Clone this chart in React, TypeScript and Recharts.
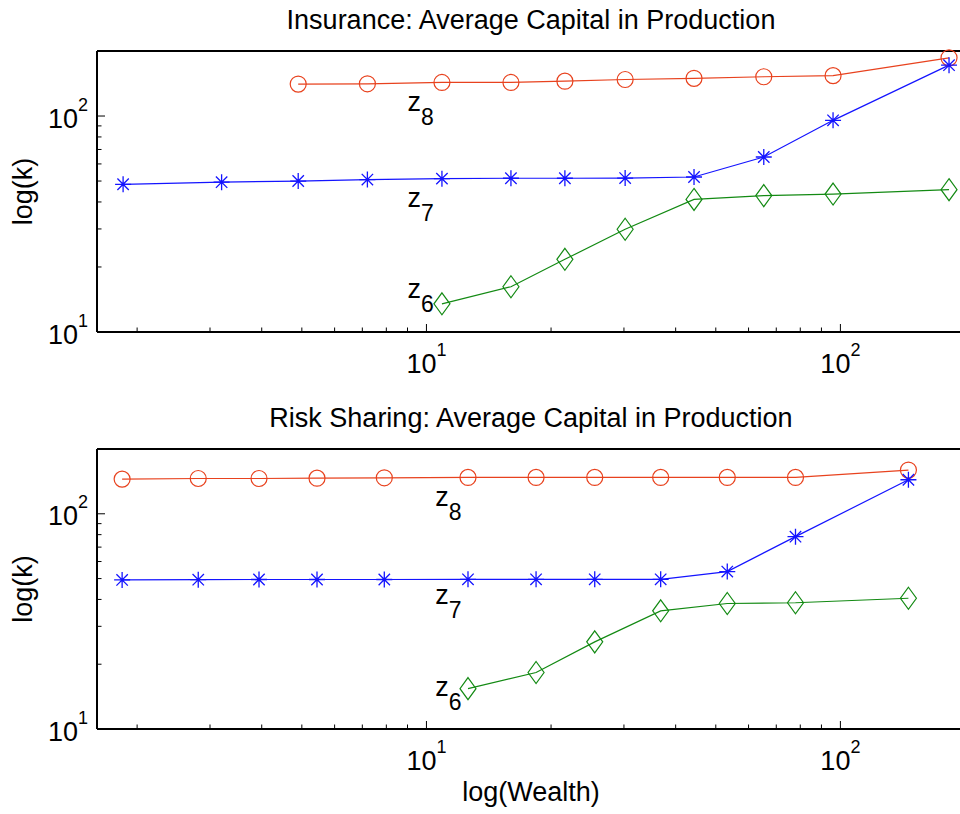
import React from 'react';
import { LineChart, Line, XAxis, YAxis, ReferenceDot, Label } from 'recharts';

// top panel: insurance
const WEALTH_INS = [1.85, 3.2, 4.9, 7.2, 10.9, 16.0, 21.6, 30.2, 44.3, 65.3, 96.0, 183];
const Z8_INS = [null, null, 140.6, 141, 143, 143, 145, 147.6, 149.5, 152, 153.8, 186];
const Z7_INS = [48.3, 49.4, 50.0, 50.8, 51.3, 51.5, 51.5, 51.6, 52.2, 64.6, 95.5, 172];
const Z6_INS = [null, null, null, null, 13.5, 16.2, 21.7, 29.9, 41.1, 42.8, 43.5, 45.6];

// bottom panel: risk sharing
const WEALTH_RISK = [1.84, 2.81, 3.94, 5.44, 7.91, 12.6, 18.4, 25.5, 36.8, 53.3, 77.9, 146];
const Z8_RISK = [144.9, 145.9, 145.9, 146.4, 147, 147.6, 147.6, 147.6, 147.6, 147.6, 147.6, 159.6];
const Z7_RISK = [49.3, 49.4, 49.5, 49.5, 49.5, 49.6, 49.6, 49.6, 49.6, 53.9, 78.3, 143.9];
const Z6_RISK = [null, null, null, null, null, 15.4, 18.3, 25.4, 35.4, 38.3, 38.6, 40.5];

// text annotations (data coords)
const LABELS_INS = [
  { sub: '8', w: 9.0, k: 106 },
  { sub: '7', w: 9.0, k: 37.9 },
  { sub: '6', w: 9.0, k: 14.3 },
];
const LABELS_RISK = [
  { sub: '8', w: 10.5, k: 109 },
  { sub: '7', w: 10.5, k: 38.0 },
  { sub: '6', w: 10.5, k: 14.2 },
];

const X_TICKS = [2, 3, 4, 5, 6, 7, 8, 9, 10, 20, 30, 40, 50, 60, 70, 80, 90, 100];
const Y_TICKS = [10, 20, 30, 40, 50, 60, 70, 80, 90, 100];
const MAJOR = [10, 100];

const RED = '#e8421e';
const BLUE = '#1414ff';
const GREEN = '#138a13';
const FONT = '"Liberation Sans", Arial, Helvetica, sans-serif';
const FS = 27;
const AXIS = { stroke: '#000', strokeWidth: 2 };

const series = (wealth: number[], vals: (number | null)[]) =>
  wealth.map((w, i) => ({ w, k: vals[i] })).filter(d => d.k != null);

const isMajor = (v: number) => MAJOR.includes(v);
const tickLen = (v: number) => (isMajor(v) ? 8 : 4.5);

const Pow = ({ v }: { v: number }) => (
  <>
    10<tspan dy={-17} fontSize={18}>{Math.round(Math.log10(v))}</tspan>
  </>
);

const BottomTick = ({ x, y, payload }: any) => (
  <g>
    <line x1={x} y1={y} x2={x} y2={y - tickLen(payload.value)} stroke="#000" />
    {isMajor(payload.value) && (
      <text x={x} y={y + 41} textAnchor="middle" fontSize={FS} fontFamily={FONT} fill="#000">
        <Pow v={payload.value} />
      </text>
    )}
  </g>
);

const TopTick = ({ x, y, payload }: any) => (
  <line x1={x} y1={y} x2={x} y2={y + tickLen(payload.value)} stroke="#000" />
);

const LeftTick = ({ x, y, payload }: any) => (
  <g>
    <line x1={x} y1={y} x2={x + tickLen(payload.value)} y2={y} stroke="#000" />
    {isMajor(payload.value) && (
      <text x={x - 9} y={y + 11.5} textAnchor="end" fontSize={FS} fontFamily={FONT} fill="#000">
        <Pow v={payload.value} />
      </text>
    )}
  </g>
);

const RightTick = ({ x, y, payload }: any) => (
  <line x1={x} y1={y} x2={x - tickLen(payload.value)} y2={y} stroke="#000" />
);

const CircleDot = ({ cx, cy, index }: any) =>
  cx == null || cy == null ? null : (
    <circle key={`c${index}`} cx={cx} cy={cy} r={8} fill="none" stroke={RED} strokeWidth={1.2} />
  );

const StarDot = ({ cx, cy, index }: any) => {
  if (cx == null || cy == null) return null;
  const a = 8, b = 5.7;
  return (
    <path key={`s${index}`} fill="none" stroke={BLUE} strokeWidth={1.3}
      d={`M${cx - a},${cy}H${cx + a}M${cx},${cy - a}V${cy + a}M${cx - b},${cy - b}L${cx + b},${cy + b}M${cx - b},${cy + b}L${cx + b},${cy - b}`} />
  );
};

const DiamondDot = ({ cx, cy, index }: any) =>
  cx == null || cy == null ? null : (
    <path key={`d${index}`} fill="none" stroke={GREEN} strokeWidth={1.2}
      d={`M${cx},${cy - 11}L${cx + 8},${cy}L${cx},${cy + 11}L${cx - 8},${cy}Z`} />
  );

// axes are 1px thick boxes so the plot area sits exactly on the margins
function Panel({ title, wealth, z8, z7, z6, labels, xLabel, height, mTop, mBottom }: any) {
  return (
    <LineChart width={1000} height={height} margin={{ top: mTop - 1, right: 34, bottom: mBottom - 1, left: 96 }}>
      <XAxis xAxisId="b" type="number" dataKey="w" scale="log" domain={[1.6, 200]} ticks={X_TICKS}
        interval={0} height={1} tickSize={0} tickMargin={0} tickLine={false} axisLine={AXIS} tick={<BottomTick />}>
        {xLabel && (
          <Label content={(p: any) => (
            <text x={p.viewBox.x + p.viewBox.width / 2} y={p.viewBox.y + 72} textAnchor="middle"
              fontSize={FS} fontFamily={FONT} fill="#000">{xLabel}</text>
          )} />
        )}
      </XAxis>
      <XAxis xAxisId="t" orientation="top" type="number" scale="log" domain={[1.6, 200]} ticks={X_TICKS}
        interval={0} height={1} tickSize={0} tickMargin={0} tickLine={false} axisLine={AXIS} tick={<TopTick />}>
        <Label content={(p: any) => (
          <text x={p.viewBox.x + p.viewBox.width / 2} y={p.viewBox.y + p.viewBox.height - 22} textAnchor="middle"
            fontSize={FS} fontFamily={FONT} fill="#000">{title}</text>
        )} />
      </XAxis>
      <YAxis yAxisId="l" type="number" scale="log" domain={[10, 200]} ticks={Y_TICKS}
        interval={0} width={1} tickSize={0} tickMargin={0} tickLine={false} axisLine={AXIS} tick={<LeftTick />}>
        <Label content={(p: any) => {
          const x = p.viewBox.x + p.viewBox.width - 65;
          const y = p.viewBox.y + p.viewBox.height / 2;
          return (
            <text x={x} y={y} transform={`rotate(-90 ${x} ${y})`} textAnchor="middle"
              fontSize={FS} fontFamily={FONT} fill="#000">log(k)</text>
          );
        }} />
      </YAxis>
      <YAxis yAxisId="r" orientation="right" type="number" scale="log" domain={[10, 200]} ticks={Y_TICKS}
        interval={0} width={1} tickSize={0} tickMargin={0} tickLine={false} axisLine={AXIS} tick={<RightTick />} />

      <Line xAxisId="b" yAxisId="l" data={series(wealth, z8)} dataKey="k" type="linear" stroke={RED}
        strokeWidth={1.2} dot={CircleDot} activeDot={false} isAnimationActive={false} />
      <Line xAxisId="b" yAxisId="l" data={series(wealth, z7)} dataKey="k" type="linear" stroke={BLUE}
        strokeWidth={1.2} dot={StarDot} activeDot={false} isAnimationActive={false} />
      <Line xAxisId="b" yAxisId="l" data={series(wealth, z6)} dataKey="k" type="linear" stroke={GREEN}
        strokeWidth={1.2} dot={DiamondDot} activeDot={false} isAnimationActive={false} />

      {labels.map((l: any) => (
        <ReferenceDot key={l.sub} xAxisId="b" yAxisId="l" x={l.w} y={l.k} r={1} ifOverflow="visible"
          shape={(p: any) => (
            <text x={p.cx} y={p.cy} fontSize={FS} fontFamily={FONT} fill="#000">
              z<tspan dy={14} fontSize={23}>{l.sub}</tspan>
            </text>
          )} />
      ))}
    </LineChart>
  );
}

export default function App() {
  return (
    <div style={{ position: 'fixed', left: 0, top: 0, width: 960, height: 814, overflow: 'hidden', background: '#fff' }}>
      <div style={{ position: 'absolute', left: 0, top: 0 }}>
        <Panel title="Insurance: Average Capital in Production" wealth={WEALTH_INS}
          z8={Z8_INS} z7={Z7_INS} z6={Z6_INS} labels={LABELS_INS}
          height={390} mTop={51} mBottom={58} />
      </div>
      <div style={{ position: 'absolute', left: 0, top: 390 }}>
        <Panel title="Risk Sharing: Average Capital in Production" wealth={WEALTH_RISK}
          z8={Z8_RISK} z7={Z7_RISK} z6={Z6_RISK} labels={LABELS_RISK} xLabel="log(Wealth)"
          height={424} mTop={59} mBottom={85} />
      </div>
    </div>
  );
}
